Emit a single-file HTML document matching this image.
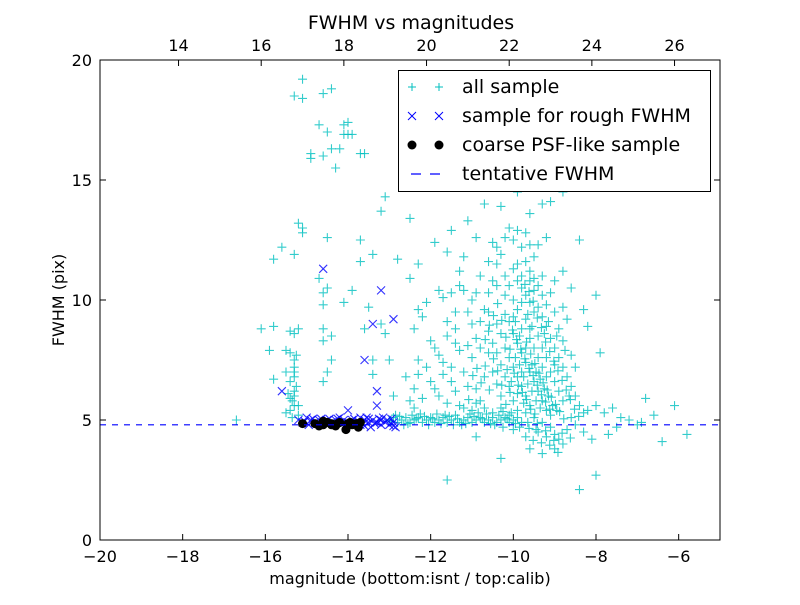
<!DOCTYPE html>
<html><head><meta charset="utf-8"><style>
body{margin:0;background:#fff}
svg text{font-family:"DejaVu Sans","Liberation Sans",sans-serif;fill:#000}
</style></head><body>
<svg id="chart" width="800" height="600" xmlns="http://www.w3.org/2000/svg">
<rect width="800" height="600" fill="#fff"/>
<g id="marks"></g>
<g id="axes"></g>
</svg>
<script>
const xTicks=[-20,-18,-16,-14,-12,-10,-8,-6];
const yTicks=[0,5,10,15,20];
const topTicks=[14,16,18,20,22,24,26];
const calibOffset=32.1;
const tentativeFWHM=4.8;
const allSample=[
[-15.1,19.2],[-15.3,18.5],[-15.1,18.4],[-14.6,18.6],[-14.4,18.8],[-14.7,17.3],[-14.5,17.0],[-14.1,17.3],[-14.1,16.9],[-14.9,16.1],[-14.9,15.9],[-14.6,16.0],[-14.4,16.3],[-14.2,16.3],[-13.7,16.1],[-13.6,16.1],[-14.3,15.5],[-14.0,16.9],[-13.9,16.9],[-14.0,17.4],
[-13.1,14.3],[-13.2,13.7],[-12.5,13.4],[-11.9,12.4],[-11.6,12.0],
[-15.8,11.7],[-15.6,12.2],[-15.2,13.2],[-15.1,13.0],[-15.1,12.8],[-16.1,8.8],[-15.8,8.9],[-15.9,7.9],[-15.5,7.9],[-15.4,7.8],[-15.3,7.5],[-15.5,7.0],[-15.3,6.8],[-15.4,5.9],[-15.3,5.6],[-15.5,5.3],[-15.2,5.2],[-16.7,5.0],[-15.3,11.9],[-15.2,8.8],[-15.3,8.6],[-15.4,6.6],[-15.3,6.2],[-15.4,5.4],[-15.2,5.6],[-15.8,6.7],[-15.3,7.2],[-15.4,8.7],[-15.3,6.0],[-15.35,5.8],[-15.25,6.4],[-15.3,7.0],[-15.25,7.7],[-15.35,5.1],[-15.45,6.1],
[-14.6,10.3],[-14.5,10.5],[-14.6,9.8],[-14.5,12.6],[-14.7,10.9],[-14.1,9.9],[-13.9,10.4],[-13.5,9.7],[-13.7,11.6],[-13.4,11.9],[-12.8,11.7],[-13.7,12.5],[-14.6,8.8],[-14.6,8.3],[-14.4,8.5],[-14.4,7.5],[-14.5,7.0],[-14.6,6.6],[-13.4,7.5],[-13.4,6.9],[-13.6,8.8],[-13.2,9.0],[-13.1,8.6],[-13.0,7.5],[-12.6,6.8],[-12.5,5.8],[-12.4,6.3],[-12.9,6.0],[-12.4,8.8],[-12.3,9.6],[-12.5,10.9],[-12.3,11.5],
[-11.8,10.4],[-11.7,10.1],[-11.5,10.3],[-11.3,10.6],[-11.2,10.4],[-11.0,10.0],[-11.6,9.1],[-11.4,8.8],[-11.9,8.0],[-11.7,7.4],[-11.5,7.2],[-11.9,6.3],[-11.8,6.0],[-11.6,5.7],[-11.3,5.6],[-11.1,6.4],[-11.2,7.0],[-11.0,7.6],[-10.9,8.4],[-10.8,9.1],[-10.7,9.6],[-10.6,10.3],[-10.5,10.8],[-10.4,11.5],[-10.3,11.9],[-10.2,12.6],[-10.0,12.5],[-9.9,12.9],[-9.8,12.2],[-9.7,11.6],[-9.6,11.2],[-9.5,11.8],[-10.9,12.6],[-11.1,13.3],[-10.7,14.0],[-11.5,12.9],[-11.2,11.8],[-10.3,13.9],[-9.6,13.6],[-9.3,14.0],[-9.1,14.1],[-8.8,14.5],[-9.9,14.5],[-10.1,10.6],[-10.0,10.0],[-9.9,9.6],[-9.8,9.9],[-9.7,9.2],[-9.6,8.8],[-9.5,9.5],[-9.4,8.5],[-9.3,8.0],[-9.2,7.6],[-9.1,7.0],[-9.0,6.6],[-8.9,6.2],[-8.8,5.8],[-10.4,9.0],[-10.3,8.6],[-10.2,8.0],[-10.1,7.6],[-10.0,7.2],[-9.9,6.8],[-9.8,6.4],[-9.7,6.0],[-9.6,5.6],[-10.6,7.8],[-10.5,7.0],[-10.4,6.5],[-10.3,6.0],[-10.7,6.8],[-10.8,5.8],[-10.9,6.3],[-11.0,5.4],[-10.2,9.4],[-10.1,9.1],[-10.0,8.6],[-9.9,8.2],[-9.8,7.8],[-9.7,7.4],[-9.6,7.0],[-9.5,6.6],[-9.4,6.2],[-9.3,5.8],[-9.2,5.4],[-9.1,5.2],[-9.9,10.8],[-9.8,10.5],[-9.7,10.2],[-9.6,9.9],[-9.5,10.4],[-9.4,9.7],[-9.3,9.3],[-9.2,8.9],[-9.1,8.4],[-9.0,8.0],[-8.9,7.6],[-8.8,7.2],[-8.7,6.8],[-8.6,6.4],[-8.5,6.0],[-8.4,5.6],[-8.3,5.3],[-9.2,6.8],[-9.3,7.2],[-9.4,7.6],[-9.5,8.0],[-9.6,8.4],[-9.7,8.0],[-9.8,7.0],[-9.9,6.1],[-10.0,5.8],[-10.1,6.4],[-10.2,6.8],[-10.3,7.3],[-10.4,7.8],[-10.5,8.2],[-10.6,8.7],[-10.7,5.5],[-10.5,5.3],[-10.3,5.5],[-10.1,5.2],[-9.9,5.4],[-9.7,5.3],[-9.5,5.1],[-9.3,4.9],[-9.1,4.7],[-9.0,4.4],[-8.9,4.2],[-8.8,4.0],[-9.4,4.5],[-9.2,4.3],[-9.0,3.8],[-9.3,3.6],[-8.7,4.6],[-8.5,4.8],[-8.6,5.1],[-8.2,5.4],[-8.0,5.6],[-7.8,5.3],[-7.6,5.5],[-7.4,5.1],[-7.2,5.0],[-7.0,4.8],[-6.8,5.9],[-6.6,5.2],[-6.4,4.1],[-6.1,5.6],[-5.8,4.4],[-7.9,7.8],[-8.0,10.2],[-7.7,4.4],[-7.5,4.7],[-6.9,4.9],[-8.3,4.5],[-8.1,4.2],[-9.7,4.3],[-10.0,4.6],[-10.3,3.4],[-9.6,3.8],[-8.4,2.1],[-8.0,2.7],[-11.6,2.5],[-10.9,4.3],[-8.2,8.9],[-8.3,9.6],[-8.6,10.5],[-8.4,12.5],[-8.7,9.2],[-12.0,8.3],[-12.2,9.3],[-12.1,9.9],[-11.3,11.2],[-11.4,9.5],[-11.0,9.0],[-10.8,11.0],[-10.6,11.6],[-10.4,12.2],[-10.1,13.0],[-9.9,11.5],[-9.7,12.8],[-9.4,12.3],[-9.3,11.0],[-9.1,10.3],[-9.0,9.5],[-8.9,8.8],[-8.8,8.3],[-8.6,7.7],[-8.5,7.2],[-9.0,7.3],[-9.2,9.8],[-9.4,10.6],[-9.6,10.8],[-9.8,8.8],[-10.0,9.3],[-10.2,10.2],[-10.4,10.6],[-10.6,9.5],[-10.8,8.0],[-11.1,8.1],[-11.3,7.9],[-11.5,6.6],[-11.7,6.9],[-12.1,7.2],[-12.3,7.5],[-12.4,5.5],[-12.2,5.9],
[-9.55,7.3],[-9.45,7.0],[-9.35,6.7],[-9.25,6.3],[-9.65,6.5],[-9.75,6.8],[-9.85,7.3],[-9.45,5.8],[-9.35,5.5],[-9.15,6.0],[-9.05,5.6],[-9.55,6.2],[-9.75,5.7],[-10.05,6.6],[-10.15,7.1],[-9.95,7.6],[-9.85,8.5],[-9.65,9.4],[-9.55,8.9],[-9.25,8.6],[-9.15,9.1],[-8.95,8.5],[-8.75,7.9],[-8.65,6.0],[-8.95,5.4],[-9.95,9.1],
[-9.62,7.15],[-9.52,6.85],[-9.42,6.45],[-9.32,6.05],[-9.22,5.75],[-9.12,5.45],[-9.72,7.55],[-9.82,7.95],[-9.92,8.35],[-10.02,8.75],[-9.68,8.25],[-9.58,7.75],[-9.48,7.35],[-9.38,6.95],[-9.28,6.55],[-9.18,6.25],[-9.08,5.95],[-8.98,5.65],[-8.88,5.35],[-8.78,5.05],[-9.88,6.45],[-9.78,6.15],[-9.68,5.85],[-9.58,5.45],[-9.48,5.25],[-10.08,7.95],[-10.18,8.45],[-10.28,9.15],[-10.38,9.85],[-10.48,9.35],[-10.58,8.95],[-10.68,8.35],[-9.72,10.65],[-9.62,10.35],[-9.52,9.95],[-9.42,9.25],[-9.32,8.85],[-9.22,8.25],[-9.12,7.85],[-9.02,7.45],[-8.92,7.05],[-8.82,6.65],[-8.72,6.25],[-8.62,5.85],[-8.52,5.45],[-8.42,5.15],[-9.98,6.95],[-10.08,6.15],[-10.18,5.65],[-10.28,6.45],[-10.38,7.05],[-10.48,7.55],[-10.58,6.25],[-10.68,7.25],[-10.78,6.55],[-10.88,7.15],[-10.98,6.85],[-11.08,5.85],[-9.42,4.85],[-9.22,4.55],[-9.02,4.15],[-8.82,4.45],[-8.62,4.25],[-9.52,4.15],[-9.32,4.05],[-9.12,3.95],[-8.92,3.65],[-9.62,4.65],[-9.8,11.0],[-10.0,11.3],[-9.5,10.9],[-9.3,10.2],[-9.0,10.8],[-8.8,9.7],[-8.8,11.2],[-10.2,11.0],[-10.5,12.4],[-9.2,12.6],[-9.6,12.3],[-10.9,10.3],[-11.1,9.5],[-11.4,8.2],[-11.6,8.5],[-11.8,7.7],[-12.0,6.6],[-12.3,6.9],[-11.4,6.2],[-11.2,5.5],[-10.9,5.7],
[-13.0,5.0],[-12.9,5.1],[-12.8,4.9],[-12.7,5.0],[-12.6,5.1],[-12.5,4.9],[-12.4,5.0],[-12.3,5.1],[-12.2,4.9],[-12.1,5.0],[-12.0,5.1],[-11.9,4.9],[-11.8,5.0],[-11.7,5.1],[-11.6,4.9],[-11.5,5.0],[-11.4,5.2],[-11.3,4.9],[-11.2,5.0],[-11.1,5.1],[-11.0,4.9],[-10.9,5.0],[-10.8,5.1],[-10.7,4.9],[-10.6,5.0],[-10.5,5.1],[-10.4,4.9],[-10.3,5.0],[-10.2,5.1],[-10.1,4.9],[-10.0,5.0],[-9.9,5.1],[-9.8,4.9],[-12.85,5.2],[-12.45,5.2],[-12.05,4.8],[-11.65,5.2],[-11.25,4.8],[-10.85,5.3],[-10.45,4.8],[-10.05,5.3],[-9.65,4.9],[-9.45,4.6],[-9.85,4.7],[-10.25,4.7],
[-12.95,4.95],[-12.75,5.15],[-12.55,4.85],[-12.35,5.05],[-12.15,5.15],[-11.95,5.05],[-11.75,4.85],[-11.55,5.15],[-11.35,5.05],[-11.15,4.85],[-10.95,5.15],[-10.75,5.05],[-10.55,4.85],[-10.35,5.2],[-10.15,5.05],[-9.95,4.85],[-12.65,4.8],[-12.25,5.25],[-11.85,5.25],[-11.45,4.8],[-11.05,5.25],[-10.65,5.25],[-10.25,5.35]
];
const roughSample=[
[-14.6,11.3],[-13.2,10.4],[-13.4,9.0],[-12.9,9.2],[-13.6,7.5],[-15.6,6.2],[-13.3,6.2],[-13.3,5.6],[-14.0,5.4],[-15.2,5.0],[-14.2,5.1],[-13.7,5.1],[-15.1,4.9],[-14.9,5.0],[-14.8,4.9],[-14.7,5.0],[-14.6,4.9],[-14.5,5.0],[-14.4,4.9],[-14.3,5.0],[-14.2,4.9],[-14.1,5.0],[-14.0,4.9],[-13.9,5.0],[-13.8,4.9],[-13.7,4.8],[-13.6,5.0],[-13.5,4.9],[-13.4,5.0],[-13.3,4.9],[-13.2,5.0],[-13.1,4.9],[-13.0,4.8],[-12.9,4.9],[-12.85,4.7],[-13.45,4.7],[-13.55,5.1],[-13.15,5.1],[-14.05,4.7],[-14.95,4.8],[-15.0,5.1],
[-15.05,4.95],[-14.85,5.05],[-14.75,4.85],[-14.65,5.05],[-14.55,4.85],[-14.45,5.05],[-14.35,4.85],[-14.25,5.05],[-14.15,4.85],[-13.95,4.85],[-13.85,5.05],[-13.75,4.95],[-13.65,4.85],[-13.5,5.05],[-13.35,4.85],[-13.25,5.05],[-13.05,5.0],[-12.95,5.05],[-12.9,4.75],[-13.2,4.8],[-13.6,4.75]
];
const psfSample=[
[-15.1,4.85],[-14.8,4.85],[-14.6,4.8],[-14.5,4.9],[-14.4,4.85],[-14.3,4.75],[-14.2,4.9],[-14.05,4.6],[-14.0,4.85],[-13.9,4.8],[-13.75,4.7],[-13.7,4.9],[-14.6,4.95],[-14.4,4.8],[-14.25,4.85],[-13.95,4.9],[-13.8,4.85],[-14.7,4.75]
];
const NS="http://www.w3.org/2000/svg";
const L=100,R=720,T=60,B=540;
const sx=v=>L+(v-(-20))/15*(R-L);
const sy=v=>B-v/20*(B-T);
const sxTop=v=>sx(v-calibOffset);
function mk(tag,at,parent){const e=document.createElementNS(NS,tag);for(const k in at)e.setAttribute(k,at[k]);parent.appendChild(e);return e;}
const marks=document.getElementById('marks');
const axes=document.getElementById('axes');
for(const p of allSample){
 const x=sx(p[0]),y=sy(p[1]);
 const g=mk('path',{d:`M${x-4.5},${y}H${x+4.5}M${x},${y-4.5}V${y+4.5}`,stroke:'#00bfbf','stroke-width':1.1,'stroke-opacity':0.8,fill:'none'},marks);
 
 
}
for(const p of roughSample){
 const x=sx(p[0]),y=sy(p[1]);
 const g=mk('path',{d:`M${x-4},${y-4}L${x+4},${y+4}M${x-4},${y+4}L${x+4},${y-4}`,stroke:'#0000ff','stroke-width':1.1,'stroke-opacity':0.8,fill:'none'},marks);
 
 
}
for(const p of psfSample){
 const c=mk('circle',{cx:sx(p[0]),cy:sy(p[1]),r:4.5,fill:'#000'},marks);
 
 
}
const dl=mk('line',{x1:L,x2:R,y1:sy(tentativeFWHM),y2:sy(tentativeFWHM),stroke:'#0000ff','stroke-width':1.2,'stroke-dasharray':'6,6'},marks);


const fr=mk('rect',{x:L,y:T,width:R-L,height:B-T,fill:'none',stroke:'#000','stroke-width':1},axes);


for(const t of xTicks){
 const x=sx(t);
 mk('path',{d:`M${x},${B}v-6`,stroke:'#000'},axes);
 const tx=mk('text',{x:x,y:B+22,'text-anchor':'middle','font-size':16},axes);
 tx.textContent=(t<0?'\u2212'+(-t):t);
 
 
}
for(const t of topTicks){
 const x=sxTop(t);
 mk('path',{d:`M${x},${T}v6`,stroke:'#000'},axes);
 const tx=mk('text',{x:x,y:T-9,'text-anchor':'middle','font-size':16},axes);
 tx.textContent=t;
 
 
}
for(const t of yTicks){
 const y=sy(t);
 mk('path',{d:`M${L},${y}h6M${R},${y}h-6`,stroke:'#000'},axes);
 const tx=mk('text',{x:L-8,y:y+6,'text-anchor':'end','font-size':16},axes);
 tx.textContent=t;
 
 
}
</script>
<svg style="position:absolute;left:0;top:0" width="800" height="600" xmlns="http://www.w3.org/2000/svg">
<text x="411" y="29" text-anchor="middle" font-size="19">FWHM vs magnitudes</text>
<text x="410" y="584" text-anchor="middle" font-size="16">magnitude (bottom:isnt / top:calib)</text>
<text x="0" y="0" transform="translate(64,300) rotate(-90)" text-anchor="middle" font-size="16">FWHM (pix)</text>
<g>
<rect x="398.5" y="70.5" width="312" height="121" fill="#fff" stroke="#000" stroke-width="1"/>
<path d="M408,87h8M412,83v8M435,87h8M439,83v8" stroke="#00bfbf" fill="none"/>
<text x="462" y="93" font-size="19">all sample</text>
<path d="M408,112l8,8M408,120l8,-8M435,112l8,8M435,120l8,-8" stroke="#0000ff" fill="none"/>
<text x="462" y="122" font-size="19">sample for rough FWHM</text>
<circle cx="412" cy="145" r="4.5" fill="#000"/><circle cx="439" cy="145" r="4.5" fill="#000"/>
<text x="462" y="151" font-size="19">coarse PSF-like sample</text>
<path d="M411,174h10M430,174h10" stroke="#0000ff" stroke-width="1.2"/>
<text x="462" y="180" font-size="19">tentative FWHM</text>
</g>
</svg>
</body></html>
